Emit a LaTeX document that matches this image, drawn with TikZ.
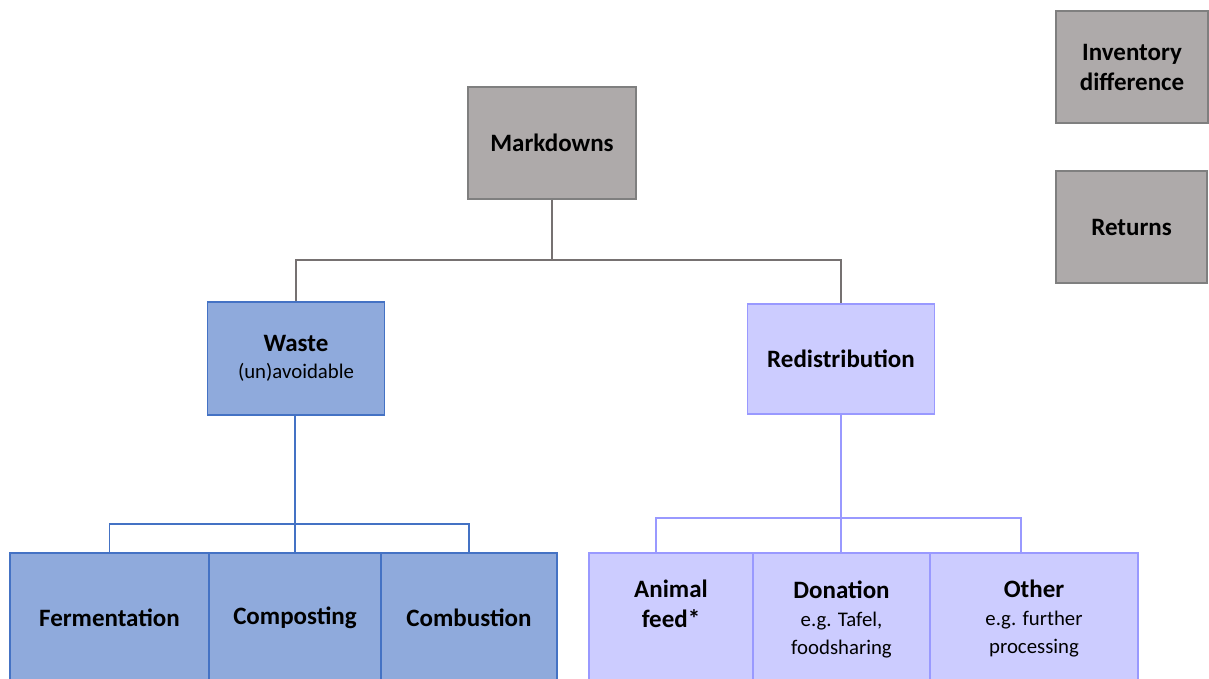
\documentclass[tikz,border=0pt]{standalone}
\usepackage{fontspec}
\setmainfont{Carlito}
\definecolor{gfill}{HTML}{AEAAAA}
\definecolor{gdraw}{HTML}{7F7F7F}
\definecolor{gline}{HTML}{767171}
\definecolor{bfill}{HTML}{8FAADC}
\definecolor{bdraw}{HTML}{4472C4}
\definecolor{pfill}{HTML}{CCCCFF}
\definecolor{pdraw}{HTML}{9999FF}
\newcommand{\mf}{\fontsize{25}{30}\selectfont\bfseries}
\newcommand{\sfnt}{\fontsize{20.8}{25}\selectfont\mdseries}
\tikzset{
  x=1pt, y=-1pt,
  box/.style={draw, line width=1.8pt, inner sep=0pt, align=center, font=\mf},
  graybox/.style={box, fill=gfill, draw=gdraw},
  bluebox/.style={box, fill=bfill, draw=bdraw},
  purplebox/.style={box, fill=pfill, draw=pdraw},
  lbl/.style={inner sep=0pt, align=center, font=\mf},
  conn/.style={line width=1.8pt},
}
\begin{document}
\begin{tikzpicture}
\useasboundingbox (0,0) rectangle (1209,678);
\clip (0,0) rectangle (1209,678);
% top level
\node[graybox, minimum width=168, minimum height=112] (md) at (552,143) {Markdowns};
\node[graybox, minimum width=152, minimum height=112] (inv) at (1132,67) {Inventory\\difference};
\node[graybox, minimum width=151, minimum height=112] (ret) at (1131.5,227) {Returns};
% second level
\node[bluebox, minimum width=177, minimum height=113] (waste) at (296,358.5) {Waste\\[-3pt]{\sfnt (un)avoidable}};
\node[purplebox, minimum width=187, minimum height=110] (redist) at (841,359) {Redistribution};
% third level left
\node[bluebox, minimum width=199, minimum height=130] (ferm) at (109.5,618) {Fermentation};
\node[bluebox, minimum width=172, minimum height=130] (comp) at (295,618) {Composting};
\node[bluebox, minimum width=176, minimum height=130] (comb) at (469,618) {Combustion};
% third level right
\node[purplebox, minimum width=164, minimum height=130] (af) at (671,618) {};
\node[lbl] (aft) at (671,604) {Animal\\feed*};
\node[purplebox, minimum width=177, minimum height=130] (don) at (841.5,618) {};
\node[lbl] (dont) at (841.5,619) {Donation\\[-2pt]{\sfnt e.g. Tafel,}\\[-2pt]{\sfnt foodsharing}};
\node[purplebox, minimum width=208, minimum height=130] (oth) at (1034,618) {};
\node[lbl] (otht) at (1034,619) {Other\\[-2pt]{\sfnt e.g. further}\\[-2pt]{\sfnt processing}};
% connectors
\draw[conn, gline] (md.south) -- ++(0,60) -| (waste.north);
\draw[conn, gline] (md.south) -- ++(0,60) -| (redist.north);
\draw[conn, bdraw] (comp.north |- waste.south) -- (comp.north);
\draw[conn, bdraw] (ferm.north) -- ++(0,-28) -| (comb.north);
\draw[conn, pdraw] (redist.south) -- (redist.south |- don.north);
\draw[conn, pdraw] ([xshift=-15pt]af.north) -- ++(0,-34) -| ([xshift=-13pt]oth.north);
\end{tikzpicture}
\end{document}
